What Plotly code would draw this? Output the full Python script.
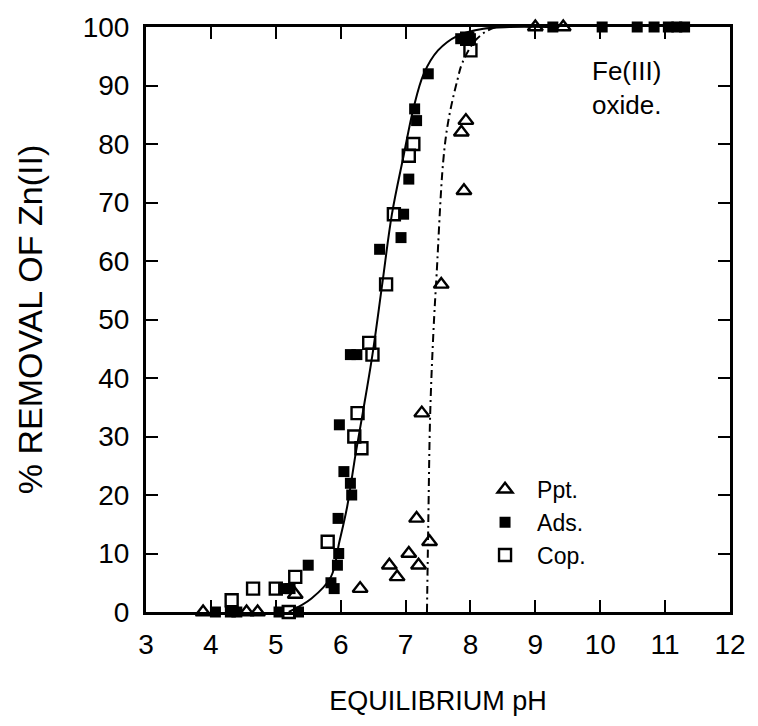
import plotly.graph_objects as go

# ---- data ----
ppt_ph  = [3.88, 4.55, 4.72, 5.3, 6.3, 6.75, 6.87, 7.05, 7.17, 7.2, 7.37, 7.25, 7.55, 7.9, 7.86, 7.93, 9.0, 9.43]
ppt_pct = [0, 0, 0, 3, 4, 8, 6, 10, 16, 8, 12, 34, 56, 72, 82, 84, 100, 100]

ads_ph  = [4.07, 4.3, 4.4, 5.05, 5.12, 5.22, 5.35, 5.5, 5.85, 5.9, 5.95, 5.97, 5.96, 5.98, 6.05, 6.15,
           6.17, 6.15, 6.25, 6.6, 6.93, 6.97, 7.05, 7.14, 7.17, 7.35, 7.85, 7.95, 8.0, 9.27, 10.03,
           10.57, 10.83, 11.05, 11.18, 11.3]
ads_pct = [0, 0, 0, 0, 4, 4, 0, 8, 5, 4, 8, 10, 16, 32, 24, 22,
           20, 44, 44, 62, 64, 68, 74, 86, 84, 92, 98, 98, 98, 100, 100,
           100, 100, 100, 100, 100]

cop_ph  = [4.32, 4.65, 5.0, 5.2, 5.3, 5.8, 6.21, 6.26, 6.32, 6.44, 6.49, 6.7, 6.82, 7.05, 7.12, 7.95, 8.0]
cop_pct = [2, 4, 4, 0, 6, 12, 30, 34, 28, 46, 44, 56, 68, 78, 80, 98, 96]

fit_ph  = [5.2, 5.55, 5.85, 5.98, 6.1, 6.23, 6.34, 6.49, 6.64, 6.79, 6.97, 7.12, 7.28, 7.5, 7.8, 8.2, 8.6, 9.2]
fit_pct = [0, 2.3, 6, 12, 18, 27, 34, 44, 56, 68, 78, 86, 92, 96, 98.5, 99.7, 100, 100]

pptfit_ph  = [7.33, 7.35, 7.38, 7.43, 7.48, 7.58, 7.66, 7.8, 7.88, 8.1, 8.4, 9.0]
pptfit_pct = [0, 15, 34, 48, 58, 77, 84, 91, 94, 98, 100, 100]

x_ticks = [3, 4, 5, 6, 7, 8, 9, 10, 11, 12]
y_ticks = [0, 10, 20, 30, 40, 50, 60, 70, 80, 90, 100]

FONT = "Liberation Sans, Arial, sans-serif"

fig = go.Figure()
fig.add_trace(go.Scatter(x=fit_ph, y=fit_pct, mode="lines", line=dict(color="black", width=2, shape="spline"),
                         showlegend=False, hoverinfo="skip", cliponaxis=False))
fig.add_trace(go.Scatter(x=pptfit_ph, y=pptfit_pct, mode="lines",
                         line=dict(color="black", width=2, shape="spline", dash="8px,4px,2px,4px"),
                         showlegend=False, hoverinfo="skip", cliponaxis=False))
fig.add_trace(go.Scatter(x=ppt_ph, y=ppt_pct, mode="markers", name="Ppt.", cliponaxis=False,
                         marker=dict(symbol="triangle-up-open", size=13, color="black", line=dict(width=2.4))))
fig.add_trace(go.Scatter(x=ads_ph, y=ads_pct, mode="markers", name="Ads.", cliponaxis=False,
                         marker=dict(symbol="square", size=11, color="black", line=dict(width=0))))
fig.add_trace(go.Scatter(x=cop_ph, y=cop_pct, mode="markers", name="Cop.", cliponaxis=False,
                         marker=dict(symbol="square-open", size=12, color="black", line=dict(width=2.4))))

fig.add_annotation(x=10.4, y=89.5, xref="x", yref="y", text="Fe(III)<br>oxide.", showarrow=False,
                   align="left", font=dict(family=FONT, size=26, color="black"))

axis_common = dict(showline=True, linecolor="black", linewidth=3, mirror="ticks", ticks="inside",
                   ticklen=12, tickwidth=2, tickcolor="black", showgrid=False, zeroline=False,
                   tickfont=dict(family=FONT, size=28, color="black"))

fig.update_xaxes(range=[3, 12], tickvals=x_ticks, ticktext=[str(v) for v in x_ticks],
                 title=dict(text="EQUILIBRIUM pH", font=dict(family=FONT, size=27, color="black"), standoff=33),
                 ticklabelstandoff=5, **axis_common)
fig.update_yaxes(range=[0, 100], tickvals=y_ticks, ticktext=[str(v) for v in y_ticks],
                 title=dict(text="% REMOVAL OF Zn(II)", font=dict(family=FONT, size=34, color="black"), standoff=30),
                 ticklabelstandoff=8, **axis_common)

fig.update_layout(
    width=758, height=726,
    margin=dict(l=146, r=21, t=22, b=114),
    paper_bgcolor="white", plot_bgcolor="white",
    legend=dict(x=0.56, y=0.2465, xanchor="left", yanchor="top", bgcolor="rgba(0,0,0,0)",
                font=dict(family=FONT, size=23, color="black"), tracegroupgap=0, itemwidth=54),
    font=dict(family=FONT, color="black"),
)

fig.write_html("out.html")
